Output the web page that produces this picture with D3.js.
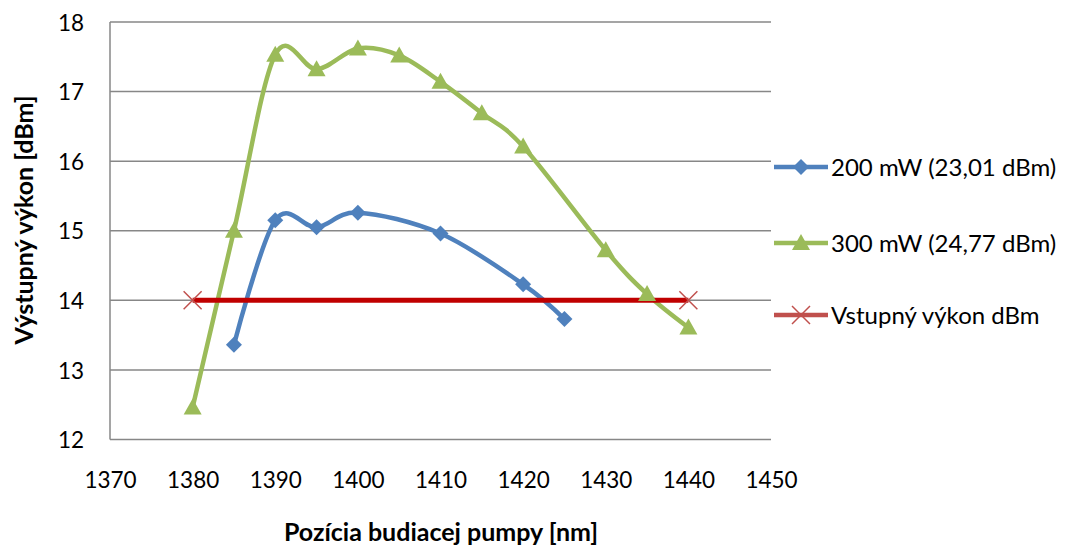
<!DOCTYPE html>
<html><head><meta charset="utf-8">
<script src="https://cdn.jsdelivr.net/npm/d3@7"></script>
<style>body{margin:0;background:#fff;} text{font-family:Lato,"Open Sans",sans-serif;}</style>
</head><body>
<svg id="c" width="1068" height="547"></svg>
<script>
const xTicks = [1370,1380,1390,1400,1410,1420,1430,1440,1450];
const yTicks = [12,13,14,15,16,17,18];
const x200 = [1385,1390,1395,1400,1410,1420,1425];
const y200 = [13.36,15.15,15.05,15.26,14.96,14.23,13.73];
const x300 = [1380,1385,1390,1395,1400,1405,1410,1415,1420,1430,1435,1440];
const y300 = [12.46,15.0,17.53,17.32,17.62,17.52,17.14,16.69,16.21,14.72,14.09,13.61];
const xIn = [1380,1440];
const yIn = [14,14];
const seriesNames = ["200 mW (23,01 dBm)","300 mW (24,77 dBm)","Vstupný výkon dBm"];
const xTitle = "Pozícia budiacej pumpy [nm]";
const yTitle = "Výstupný výkon [dBm]";

const svg = d3.select("#c");
const L=110,R=771,T=22,B=439.5;
const x = d3.scaleLinear().domain([1370,1450]).range([L,R]);
const y = d3.scaleLinear().domain([12,18]).range([B,T]);
const grid="#878787";
const FF="Lato,'Open Sans',sans-serif";

svg.append("g").selectAll("line").data(yTicks).join("line")
 .attr("x1",L).attr("x2",R).attr("y1",d=>y(d)).attr("y2",d=>y(d))
 .attr("stroke",grid).attr("stroke-width",1.5);
svg.append("line").attr("x1",L).attr("x2",L).attr("y1",T).attr("y2",B).attr("stroke",grid).attr("stroke-width",1.5);

const ya = svg.append("g").attr("transform",`translate(${L-26},1)`).call(d3.axisLeft(y).tickValues(yTicks).tickSize(0).tickPadding(0).tickFormat(d3.format("d")));
ya.select(".domain").remove();
ya.selectAll("text").attr("font-size",22.5).attr("fill","#000").style("font-family",FF);
const xa = svg.append("g").attr("transform",`translate(0,${B+33})`).call(d3.axisBottom(x).tickValues(xTicks).tickSize(0).tickPadding(0).tickFormat(d3.format("d")));
xa.select(".domain").remove();
xa.selectAll("text").attr("font-size",22.5).attr("fill","#000").style("font-family",FF);

svg.append("text").attr("x",441).attr("y",541).attr("text-anchor","middle").attr("font-size",25).attr("font-weight","bold").text(xTitle);
svg.append("text").attr("transform",`translate(33,220) rotate(-90)`).attr("text-anchor","middle").attr("font-size",25).attr("font-weight","bold").text(yTitle);

const line = d3.line().x(d=>x(d[0])).y(d=>y(d[1])).curve(d3.curveCardinal.tension(0));
const d200 = x200.map((v,i)=>[v,y200[i]]);
const d300 = x300.map((v,i)=>[v,y300[i]]);
const dIn = xIn.map((v,i)=>[v,yIn[i]]);
const blue="#4F81BD", green="#9BBB59", red="#C00000", redM="#C0504D";

svg.append("path").attr("d",line(d300)).attr("fill","none").attr("stroke",green).attr("stroke-width",4.5).attr("stroke-linejoin","round");
svg.append("path").attr("d",line(d200)).attr("fill","none").attr("stroke",blue).attr("stroke-width",4.5).attr("stroke-linejoin","round");
svg.append("path").attr("d",d3.line().x(d=>x(d[0])).y(d=>y(d[1]))(dIn)).attr("fill","none").attr("stroke",red).attr("stroke-width",5);

const diamond = "M0,-8L8,0L0,8L-8,0Z";
const tri = "M0,-9L9,7L-9,7Z";
const cross = "M-9,-9L9,9M-9,9L9,-9";
svg.append("g").selectAll("path").data(d200).join("path").attr("d",diamond)
 .attr("transform",d=>`translate(${x(d[0])},${y(d[1])})`).attr("fill",blue);
svg.append("g").selectAll("path").data(d300).join("path").attr("d",tri)
 .attr("transform",d=>`translate(${x(d[0])},${y(d[1])})`).attr("fill",green);
svg.append("g").selectAll("path").data(dIn).join("path").attr("d",cross)
 .attr("transform",d=>`translate(${x(d[0])},${y(d[1])})`).attr("stroke",redM).attr("stroke-width",1.5).attr("fill","none");

const legY=[167,243,315];
const legCol=[blue,green,redM];
const legSym=[diamond,tri,cross];
seriesNames.forEach((n,i)=>{
  const g=svg.append("g").attr("transform",`translate(0,${legY[i]})`);
  g.append("line").attr("x1",774).attr("x2",828).attr("stroke",legCol[i]).attr("stroke-width",4.5);
  const s=g.append("path").attr("d",legSym[i]).attr("transform","translate(801,0)");
  if(i==2) s.attr("stroke",redM).attr("stroke-width",1.5).attr("fill","none");
  else s.attr("fill",legCol[i]);
  g.append("text").attr("x",831).attr("y",9).attr("font-size",24).text(n);
});
</script>
</body></html>
